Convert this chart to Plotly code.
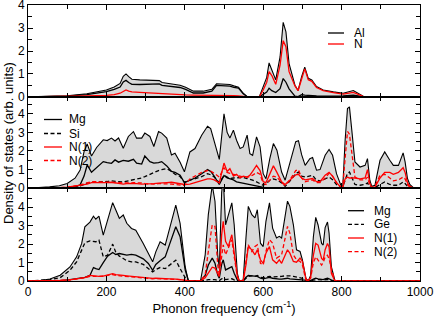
import plotly.graph_objects as go

# ---------------- AlN (top panel) ----------------
freq_aln = [0, 50, 100, 150, 200, 220, 235, 243, 250, 257, 265, 285, 310, 335, 342,
            362, 388, 402, 422, 447, 469, 481, 498, 515, 525, 537, 549, 560, 590, 600,
            609, 615, 622, 632, 643, 651, 658, 666, 681, 689, 698, 706, 715, 724, 736,
            753, 779, 804, 830, 843, 855, 880, 1000]
aln_total = [0, 0.02, 0.05, 0.14, 0.3, 0.43, 0.59, 0.9, 1.0, 0.88, 0.77, 0.74, 0.72, 0.71, 0.63,
             0.57, 0.51, 0.42, 0.25, 0.25, 0.33, 0.57, 0.55, 0.54, 0.48, 0.42, 0.16, 0, 0, 0.42,
             0.85, 1.48, 1.2, 0.74, 1.74, 3.25, 2.83, 1.45, 0.51, 0.28, 0.88, 1.3, 0.81, 0.74, 0.45,
             0.3, 0.22, 0.16, 0.28, 0.16, 0.03, 0, 0]
aln_al = [0, 0.015, 0.035, 0.1, 0.23, 0.33, 0.43, 0.65, 0.72, 0.63, 0.55, 0.54, 0.55, 0.57, 0.5,
          0.45, 0.41, 0.33, 0.17, 0.17, 0.25, 0.5, 0.48, 0.47, 0.42, 0.38, 0.14, 0, 0, 0.12,
          0.21, 0.38, 0.27, 0.19, 0.36, 0.8, 0.64, 0.35, 0.03, 0.01, 0.1, 0.08, 0.06, 0.06, 0.04,
          0.03, 0.03, 0.04, 0.08, 0.04, 0.01, 0, 0]
aln_n = [0, 0.005, 0.015, 0.04, 0.07, 0.1, 0.16, 0.25, 0.3, 0.25, 0.22, 0.2, 0.17, 0.14, 0.13,
         0.12, 0.1, 0.09, 0.08, 0.08, 0.08, 0.07, 0.07, 0.07, 0.06, 0.04, 0.02, 0, 0, 0.3,
         0.64, 1.1, 0.93, 0.55, 1.38, 2.45, 2.19, 1.1, 0.48, 0.27, 0.78, 1.22, 0.75, 0.68, 0.41,
         0.27, 0.19, 0.12, 0.2, 0.12, 0.02, 0, 0]

# ---------------- MgSiN2 (middle panel) ----------------
freq_msn = [0, 30, 55, 80, 100, 120, 133, 143, 151, 162, 175, 192, 202, 213, 222,
            231, 243, 256, 269, 277, 290, 298, 311, 321, 333, 341, 354, 366, 375, 388,
            399, 413, 426, 443, 458, 466, 475, 488, 500, 508, 515, 524, 532, 541, 549,
            559, 566, 573, 583, 592, 600, 607, 617, 626, 635, 647, 656, 668, 683, 690,
            698, 707, 719, 726, 736, 745, 758, 768, 777, 787, 798, 803, 809, 815, 820,
            826, 834, 847, 860, 866, 872, 877, 885, 898, 910, 923, 932, 945, 957, 962,
            968, 974, 983, 1000]
msn_total = [0, 0.02, 0.07, 0.13, 0.25, 0.54, 0.98, 1.97, 2.38, 1.73, 2.19, 2.6, 2.56, 2.69, 2.54,
             2.7, 2.15, 2.78, 3.04, 2.69, 2.69, 2.96, 2.78, 2.24, 3.04, 2.96, 2.69, 1.79, 1.88, 1.4,
             0.88, 1.95, 2.13, 2.85, 3.33, 3.2, 2.5, 1.55, 4.0, 3.0, 2.7, 3.12, 2.58, 2.13, 2.22,
             2.85, 1.86, 1.77, 2.76, 2.22, 0.78, 0.51, 1.6, 2.4, 2.04, 0.87, 0.43, 1.35, 2.5, 2.55,
             1.8, 1.23, 1.59, 1.65, 0.97, 1.0, 1.77, 2.08, 1.77, 0.78, 0.16, 0.07, 2.58, 4.28, 4.37,
             3.12, 1.41, 1.14, 1.23, 1.59, 0.43, 0.1, 0.16, 1.5, 1.95, 1.5, 1.23, 1.23, 1.9, 1.41,
             0.52, 0.2, 0.03, 0]
msn_mg = [0, 0, 0, 0.01, 0.03, 0.08, 0.18, 0.65, 1.25, 0.86, 1.1, 1.43, 1.38, 1.34, 1.52,
          1.4, 1.5, 1.45, 1.55, 1.35, 1.3, 1.73, 1.43, 1.35, 1.38, 1.43, 1.2, 0.9, 0.85, 0.7,
          0.3, 0.45, 0.55, 0.78, 1.0, 0.9, 0.65, 0.2, 0.68, 0.55, 0.52, 0.45, 0.34, 0.3, 0.29,
          0.22, 0.2, 0.15, 0.1, 0.06, 0.03, 0.02, 0.02, 0.02, 0.02, 0.02, 0.02, 0.02, 0.02, 0.02,
          0.02, 0.02, 0.02, 0.02, 0.02, 0.02, 0.02, 0.02, 0.02, 0.02, 0.01, 0.01, 0.02, 0.02, 0.02,
          0.02, 0.02, 0.02, 0.02, 0.02, 0.01, 0.01, 0.01, 0.02, 0.02, 0.02, 0.02, 0.02, 0.02, 0.02,
          0.01, 0.01, 0, 0]
msn_si = [0, 0, 0.01, 0.02, 0.04, 0.08, 0.12, 0.2, 0.28, 0.32, 0.33, 0.33, 0.36, 0.39, 0.38,
          0.38, 0.33, 0.4, 0.45, 0.5, 0.55, 0.62, 0.75, 0.85, 0.95, 1.0, 1.05, 0.9, 0.75, 0.63,
          0.32, 0.43, 0.5, 0.62, 0.78, 0.72, 0.6, 0.29, 0.69, 0.58, 0.52, 0.55, 0.57, 0.6, 0.58,
          0.52, 0.48, 0.43, 0.34, 0.25, 0.16, 0.25, 0.43, 0.5, 0.45, 0.29, 0.1, 0.39, 0.78, 0.87,
          0.65, 0.6, 0.67, 0.69, 0.43, 0.39, 0.5, 0.6, 0.46, 0.2, 0.03, 0.1, 0.43, 0.8, 0.87,
          0.6, 0.2, 0.16, 0.2, 0.29, 0.07, 0.03, 0.03, 0.2, 0.34, 0.2, 0.16, 0.16, 0.34, 0.25,
          0.1, 0.03, 0, 0]
msn_n1 = [0, 0, 0.01, 0.03, 0.06, 0.12, 0.16, 0.2, 0.22, 0.3, 0.3, 0.27, 0.3, 0.32, 0.28,
          0.25, 0.22, 0.26, 0.27, 0.25, 0.22, 0.22, 0.24, 0.25, 0.27, 0.27, 0.3, 0.32, 0.28, 0.22,
          0.2, 0.22, 0.3, 0.4, 0.5, 0.5, 0.45, 0.28, 1.35, 0.9, 1.05, 0.65, 0.75, 0.55, 0.65,
          0.6, 0.7, 0.9, 1.22, 0.95, 0.35, 0.3, 0.8, 1.2, 0.85, 0.35, 0.2, 0.45, 0.72, 0.75,
          0.55, 0.45, 0.5, 0.52, 0.35, 0.35, 0.7, 0.85, 0.65, 0.3, 0.05, 0.05, 0.5, 0.6, 0.55,
          0.55, 0.55, 0.5, 0.55, 1.0, 0.25, 0.05, 0.05, 0.55, 0.85, 0.85, 0.75, 0.85, 1.1, 0.85,
          0.3, 0.1, 0.02, 0]
msn_n2 = [0, 0, 0.01, 0.03, 0.06, 0.12, 0.16, 0.25, 0.3, 0.35, 0.35, 0.33, 0.35, 0.3, 0.3,
          0.3, 0.3, 0.28, 0.3, 0.3, 0.28, 0.25, 0.22, 0.22, 0.25, 0.25, 0.25, 0.22, 0.2, 0.18,
          0.15, 0.5, 0.65, 0.85, 0.95, 0.92, 0.8, 0.6, 1.1, 0.85, 0.8, 0.75, 0.7, 0.65, 0.6,
          0.6, 0.62, 0.7, 0.85, 0.75, 0.25, 0.2, 0.45, 0.65, 0.6, 0.3, 0.15, 0.45, 0.95, 1.0,
          0.55, 0.35, 0.4, 0.45, 0.3, 0.3, 0.55, 0.8, 0.65, 0.3, 0.08, 0.1, 1.6, 3.05, 2.9,
          1.9, 0.6, 0.45, 0.45, 0.6, 0.15, 0.03, 0.1, 0.7, 0.75, 0.55, 0.4, 0.45, 0.6, 0.5,
          0.2, 0.05, 0, 0]

# ---------------- MgGeN2 (bottom panel) ----------------
freq_mgn = [0, 31, 56, 82, 107, 124, 137, 145, 158, 167, 173, 181, 192, 203, 216,
            224, 233, 243, 252, 264, 275, 294, 307, 318, 326, 337, 350, 362, 377, 388,
            401, 409, 440, 452, 460, 470, 477, 484, 488, 494, 498, 504, 511, 520, 526,
            534, 539, 549, 556, 562, 571, 579, 585, 593, 600, 607, 616, 624, 634, 641,
            647, 656, 662, 668, 677, 685, 694, 700, 709, 715, 721, 728, 734, 740, 749,
            753, 758, 764, 768, 774, 783, 1000]
mgn_total = [0, 0.02, 0.11, 0.31, 0.76, 1.31, 2.04, 2.94, 3.2, 3.52, 3.35, 3.52, 2.49, 3.31, 4.25,
             3.85, 3.4, 3.58, 3.13, 2.85, 2.76, 2.04, 1.49, 1.04, 1.58, 2.13, 1.95, 2.94, 4.12, 3.13,
             0.76, 0.02, 0, 1.42, 3.6, 5.2, 4.33, 1.42, 0.69, 4.8, 5.6, 3.05, 3.6, 4.24, 3.05,
             0.42, 0, 0.05, 2.33, 4.05, 3.6, 3.42, 3.87, 2.05, 1.87, 3.24, 4.24, 2.87, 2.33, 2.42,
             2.33, 3.42, 4.33, 4.05, 3.05, 1.69, 1.6, 1.15, 0.15, 0, 0.3, 2.4, 3.45, 3.04, 2.04,
             1.95, 2.9, 3.2, 2.6, 0.76, 0.02, 0]
mgn_mg = [0, 0, 0.01, 0.02, 0.07, 0.12, 0.16, 0.2, 0.3, 0.73, 0.67, 0.62, 1.0, 1.35, 1.55,
          1.44, 1.49, 1.42, 1.4, 1.44, 1.4, 1.2, 0.95, 0.58, 0.9, 1.1, 1.31, 2.04, 2.94, 2.4,
          0.6, 0.02, 0, 0.3, 0.87, 1.24, 0.96, 0.33, 0.15, 0.9, 1.15, 0.6, 0.69, 0.78, 0.42,
          0.05, 0, 0.02, 0.2, 0.3, 0.28, 0.25, 0.25, 0.15, 0.12, 0.15, 0.2, 0.15, 0.1, 0.1,
          0.1, 0.12, 0.15, 0.12, 0.1, 0.08, 0.08, 0.06, 0.02, 0, 0.02, 0.1, 0.15, 0.12, 0.08,
          0.08, 0.12, 0.15, 0.12, 0.05, 0, 0]
mgn_ge = [0, 0.02, 0.07, 0.18, 0.58, 1.04, 1.67, 2.07, 2.18, 2.15, 2.13, 2.22, 1.31, 1.4, 2.0,
          1.55, 1.35, 1.22, 1.1, 1.04, 1.04, 0.9, 0.7, 0.49, 0.62, 0.73, 0.67, 0.86, 1.13, 0.67,
          0.18, 0.01, 0, 0.03, 0.08, 0.1, 0.08, 0.03, 0.02, 0.12, 0.15, 0.08, 0.1, 0.12, 0.06,
          0.01, 0, 0.01, 0.15, 0.25, 0.28, 0.25, 0.3, 0.2, 0.18, 0.22, 0.25, 0.22, 0.22, 0.25,
          0.25, 0.28, 0.3, 0.28, 0.25, 0.22, 0.2, 0.15, 0.02, 0, 0.01, 0.05, 0.08, 0.08, 0.06,
          0.06, 0.08, 0.1, 0.08, 0.03, 0, 0]
mgn_n1 = [0, 0, 0.01, 0.03, 0.06, 0.1, 0.13, 0.18, 0.3, 0.28, 0.25, 0.25, 0.27, 0.32, 0.4,
          0.35, 0.31, 0.3, 0.28, 0.25, 0.22, 0.18, 0.16, 0.14, 0.15, 0.15, 0.13, 0.11, 0.1, 0.09,
          0.04, 0, 0, 0.18, 0.45, 0.75, 0.7, 0.42, 0.24, 2.5, 3.24, 2.15, 1.87, 2.51, 1.42,
          0.24, 0, 0.02, 0.87, 1.87, 1.69, 1.42, 1.69, 1.15, 0.96, 1.51, 1.87, 1.15, 0.96, 1.15,
          0.96, 1.42, 1.69, 1.51, 1.06, 1.02, 1.24, 1.06, 0.11, 0, 0.2, 1.4, 2.04, 1.95, 1.22,
          1.13, 1.7, 2.04, 1.85, 0.4, 0, 0]
mgn_n2 = [0, 0, 0.01, 0.03, 0.06, 0.1, 0.14, 0.18, 0.25, 0.25, 0.22, 0.22, 0.25, 0.3, 0.35,
          0.3, 0.28, 0.27, 0.25, 0.22, 0.2, 0.16, 0.14, 0.12, 0.13, 0.13, 0.12, 0.1, 0.09, 0.08,
          0.03, 0, 0, 0.33, 1.6, 3.05, 2.96, 0.87, 0.33, 1.5, 1.96, 1.42, 1.78, 2.24, 1.33,
          0.24, 0, 0.02, 1.05, 1.96, 1.6, 1.87, 1.96, 0.96, 0.87, 1.6, 2.24, 2.05, 1.24, 1.33,
          1.42, 2.33, 2.96, 2.6, 1.42, 1.15, 1.06, 0.87, 0.05, 0, 0.15, 1.0, 1.31, 1.13, 0.86,
          1.0, 1.31, 1.4, 1.2, 0.67, 0, 0]

x_tick_vals = [0, 200, 400, 600, 800, 1000]
y_tick_vals = [0, 1, 2, 3, 4]
x_title = "Phonon frequency (cm<sup>-1</sup>)"
y_title = "Density of states (arb. units)"

FONT = "Liberation Sans, Arial, Helvetica, sans-serif"
FILL = "#d9d9d9"
RED = "#ff0000"
DASH = "4px,2.5px"

# figure geometry (pixels)
W, H = 436, 317
ML, MR, MT, MB = 28, 16, 5, 36
PW, PH = W - ML - MR, H - MT - MB


def px2x(px):
    return (px - ML) / PW


def px2y(py):
    return (H - MB - py) / PH


fig = go.Figure()

panels = [
    ("", freq_aln, aln_total, [("Al", aln_al, "black", "solid"),
                               ("N", aln_n, RED, "solid")]),
    ("2", freq_msn, msn_total, [("Mg", msn_mg, "black", "solid"),
                                ("Si", msn_si, "black", DASH),
                                ("N(1)", msn_n1, RED, "solid"),
                                ("N(2)", msn_n2, RED, DASH)]),
    ("3", freq_mgn, mgn_total, [("Mg", mgn_mg, "black", "solid"),
                                ("Ge", mgn_ge, "black", DASH),
                                ("N(1)", mgn_n1, RED, "solid"),
                                ("N(2)", mgn_n2, RED, DASH)]),
]

for suf, fr, tot, species in panels:
    fig.add_trace(go.Scatter(x=fr, y=tot, mode="lines", fill="tozeroy",
                             fillcolor=FILL, line=dict(color="black", width=1.1),
                             showlegend=False, xaxis="x" + suf, yaxis="y" + suf))
    for name, vals, col, dash in species:
        fig.add_trace(go.Scatter(x=fr, y=vals, mode="lines", name=name,
                                 line=dict(color=col, width=1.3, dash=dash),
                                 showlegend=False, xaxis="x" + suf, yaxis="y" + suf))

domains = {"": [px2y(97), 1.0], "2": [px2y(188.3), px2y(97)], "3": [0.0, px2y(188.3)]}
yranges = {"": [-0.004, 4.004], "2": [-0.004, 4.9], "3": [0, 5.03]}

axis_common = dict(showline=True, linecolor="black", linewidth=1, mirror="ticks",
                   ticks="inside", tickcolor="black", ticklen=5, tickwidth=1,
                   showgrid=False, zeroline=False, automargin=False,
                   ticklabeloverflow="allow",
                   tickfont=dict(family=FONT, size=12, color="black"))

layout = dict(width=W, height=H, margin=dict(l=ML, r=MR, t=MT, b=MB, autoexpand=False),
              paper_bgcolor="white", plot_bgcolor="white", showlegend=False,
              font=dict(family=FONT, size=12, color="black"))
for suf in ["", "2", "3"]:
    layout["xaxis" + suf] = dict(axis_common, domain=[0, 1], anchor="y" + suf,
                                 range=[0, 1000], tickvals=x_tick_vals,
                                 showticklabels=(suf == "3"),
                                 minor=dict(dtick=100, tick0=0, ticks="inside", ticklen=4,
                                            tickcolor="black"))
    layout["yaxis" + suf] = dict(axis_common, domain=domains[suf], anchor="x" + suf,
                                 range=yranges[suf], tickvals=y_tick_vals,
                                 minor=dict(dtick=0.5, tick0=0, ticks="inside", ticklen=4,
                                            tickcolor="black"))
    if suf != "":
        layout["xaxis" + suf]["matches"] = "x"
layout["xaxis3"]["title"] = dict(text=x_title, font=dict(family=FONT, size=13), standoff=4)
fig.update_layout(**layout)

fig.add_annotation(text=y_title, textangle=-90, xref="paper", yref="paper",
                   x=px2x(8), y=px2y(143), xanchor="center", yanchor="middle",
                   showarrow=False, font=dict(family=FONT, size=13, color="black"))

legend_specs = [
    (panels[0][3], 328, 344, 352, [33, 44]),
    (panels[1][3], 44, 62, 67, [119.5, 133.5, 147, 160.5]),
    (panels[2][3], 348, 364, 372, [210.7, 224.3, 238, 251.7]),
]
for species, x0, x1, xt, rows in legend_specs:
    for (name, _vals, col, dash), yy in zip(species, rows):
        fig.add_shape(type="line", xref="paper", yref="paper",
                      x0=px2x(x0), x1=px2x(x1), y0=px2y(yy), y1=px2y(yy),
                      line=dict(color=col, width=1.3, dash=dash))
        fig.add_annotation(text=name, xref="paper", yref="paper", x=px2x(xt), y=px2y(yy),
                           xanchor="left", yanchor="middle", showarrow=False,
                           font=dict(family=FONT, size=12, color="black"))

fig.write_html("out.html", config={"displayModeBar": False},
               post_script="document.body.style.margin='0px';")
